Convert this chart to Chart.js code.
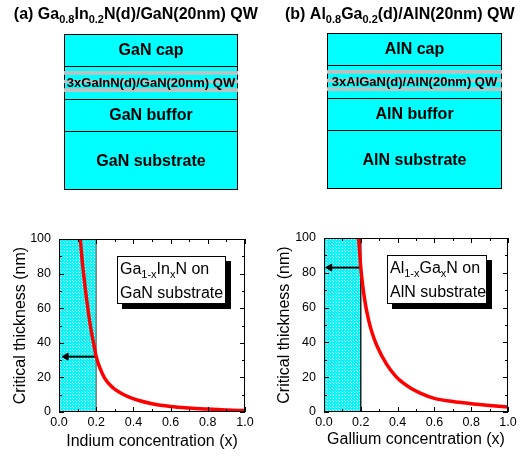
<!DOCTYPE html>
<html><head><meta charset="utf-8">
<script src="https://cdn.jsdelivr.net/npm/chart.js@4.4.1/dist/chart.umd.min.js"></script>
<style>
html,body{margin:0;padding:0;background:#fff;}
#wrap{position:relative;width:532px;height:460px;overflow:hidden;background:#fff;}
canvas{position:absolute;}
</style></head><body>
<div id="wrap">
<canvas id="ta" width="266" height="200" style="left:0;top:0"></canvas>
<canvas id="tb" width="266" height="200" style="left:266px;top:0"></canvas>
<canvas id="pa" width="266" height="240" style="left:0;top:220px"></canvas>
<canvas id="pb" width="266" height="240" style="left:266px;top:220px"></canvas>
</div>
<script>
// ---------------- data ----------------
// layer stacks (schematic thickness units, bottom to top)
const layersA = ['GaN substrate', 'GaN buffor', '3xGaInN(d)/GaN(20nm) QW', 'GaN cap'];
const layersB = ['AlN substrate', 'AlN buffor', '3xAlGaN(d)/AlN(20nm) QW', 'AlN cap'];
const layerThickness = [59, 32, 33, 32];
const qwBarriers = [[98.3, 101.3], [107, 110], [115.7, 118.7]];

// critical thickness curves
const inGaN_x = [0.115, 0.12, 0.13, 0.14, 0.15, 0.16, 0.17, 0.18, 0.19, 0.2, 0.22, 0.246, 0.29, 0.336, 0.38, 0.425, 0.5, 0.6, 0.7, 0.8, 0.9, 1.0];
const inGaN_h = [100, 93, 82, 72.5, 64, 56, 49, 43, 37.5, 32, 25.5, 19.4, 14, 10.7, 8.5, 6.8, 4.8, 3.2, 2.3, 1.7, 1.2, 0.8];
const alGaN_x = [0.188, 0.2, 0.21, 0.225, 0.24, 0.26, 0.29, 0.34, 0.39, 0.43, 0.47, 0.52, 0.6, 0.7, 0.8, 0.9, 1.0];
const alGaN_h = [100, 83, 73, 62, 54, 46, 37.5, 27.5, 20.5, 16.7, 13.8, 11, 7.8, 6.0, 4.8, 3.8, 2.9];

// shaded composition range and arrows
const shadeX = [0, 0.2];
const arrowA_x = [0.2, 0.038];
const arrowA_y = [32, 32];
const arrowB_x = [0.2, 0.031];
const arrowB_y = [83, 83];

// tick labels
const xTickLabels = ['0.0', '0.2', '0.4', '0.6', '0.8', '1.0'];
const yTickLabels = ['0', '20', '40', '60', '80', '100'];

// ---------------- drawing ----------------
const FONT = "Arial, 'Liberation Sans', Helvetica, sans-serif";
Chart.defaults.font.family = FONT;
Chart.defaults.color = '#000';

function richWidth(ctx, parts) {
  let w = 0;
  for (const p of parts) { ctx.font = (p[3] ? 'bold ' : '') + p[1] + 'px ' + FONT; w += ctx.measureText(p[0]).width; }
  return w;
}
function drawRich(ctx, parts, x, y, align) {
  let cx = align === 'center' ? x - richWidth(ctx, parts) / 2 : x;
  ctx.textAlign = 'left'; ctx.textBaseline = 'alphabetic'; ctx.fillStyle = '#000';
  for (const p of parts) {
    ctx.font = (p[3] ? 'bold ' : '') + p[1] + 'px ' + FONT;
    ctx.fillText(p[0], cx, y + p[2]);
    cx += ctx.measureText(p[0]).width;
  }
}

const diagramPlugin = {
  id: 'diagram',
  afterDatasetsDraw(chart, args, opts) {
    const ctx = chart.ctx;
    ctx.save();
    opts.names.forEach((name, i) => {
      const meta = chart.getDatasetMeta(qwBarriers.length + i);
      const el = meta.data[0];
      const cy = (el.y + el.base) / 2;
      const cx = (chart.chartArea.left + chart.chartArea.right) / 2;
      ctx.font = 'bold ' + (i === 2 ? 13 : 16) + 'px ' + FONT;
      ctx.textAlign = 'center'; ctx.textBaseline = 'middle'; ctx.fillStyle = '#000';
      ctx.fillText(name, cx, cy + 1);
    });
    drawRich(ctx, opts.title, opts.titleX, 18.5, 'center');
    ctx.restore();
  }
};

function diagram(id, names, pad, title, titleX) {
  const datasets = [];
  qwBarriers.forEach(s => datasets.push({ data: [s], backgroundColor: '#c0c0c0', borderWidth: 0, order: 0, grouped: false }));
  let base = 0;
  names.forEach((n, i) => {
    datasets.push({
      label: n, data: [[base, base + layerThickness[i]]], backgroundColor: '#00ffff', borderColor: '#000',
      borderWidth: i === 0 ? 1 : { top: 1, left: 1, right: 1, bottom: 0 }, borderSkipped: false, order: 1, grouped: false,
      inflateAmount: 0
    });
    base += layerThickness[i];
  });
  return new Chart(document.getElementById(id), {
    type: 'bar',
    data: { labels: ['stack'], datasets },
    options: {
      responsive: false, animation: false, events: [],
      layout: { padding: pad },
      barPercentage: 1, categoryPercentage: 1,
      scales: {
        x: { display: false },
        y: { display: false, min: 0, max: layerThickness.reduce((a, b) => a + b, 0) }
      },
      plugins: { legend: { display: false }, tooltip: { enabled: false }, diagram: { names, title, titleX } }
    },
    plugins: [diagramPlugin]
  });
}

diagram('ta', layersA, { left: 64, right: 28, top: 34, bottom: 10 },
  [['(a) Ga', 16, 0, 1], ['0.8', 11, 4, 1], ['In', 16, 0, 1], ['0.2', 11, 4, 1], ['N(d)/GaN(20nm) QW', 16, 0, 1]], 135.8);
diagram('tb', layersB, { left: 61, right: 30, top: 33, bottom: 11 },
  [['(b) Al', 16, 0, 1], ['0.8', 11, 4, 1], ['Ga', 16, 0, 1], ['0.2', 11, 4, 1], ['(d)/AlN(20nm) QW', 16, 0, 1]], 133.8);

// pattern for shaded range
function makePattern() {
  const c = document.createElement('canvas'); c.width = 3; c.height = 3;
  const g = c.getContext('2d');
  g.fillStyle = '#00f6fa'; g.fillRect(0, 0, 3, 3);
  g.fillStyle = '#e6ffff'; g.fillRect(1, 1, 1, 1);
  g.fillStyle = '#9ffcfc'; g.fillRect(0, 0, 1, 1);
  return g.createPattern(c, 'repeat');
}
const pattern = makePattern();

const framePlugin = {
  id: 'frame',
  afterDatasetsDraw(chart, args, opts) {
    const { ctx, chartArea: a, scales: { x, y } } = chart;
    ctx.save();
    ctx.strokeStyle = '#000'; ctx.lineWidth = 1;
    ctx.strokeRect(Math.round(a.left) + 0.5, Math.round(a.top) + 0.5, Math.round(a.right - a.left) - 1, Math.round(a.bottom - a.top) - 1);
    ctx.beginPath();
    const xt = x.ticks.map(t => x.getPixelForValue(t.value));
    const yt = y.ticks.map(t => y.getPixelForValue(t.value));
    const maj = 5, min = 3;
    xt.forEach((p, i) => {
      const px = Math.round(p) + 0.5;
      ctx.moveTo(px, a.bottom); ctx.lineTo(px, a.bottom - maj);
      ctx.moveTo(px, a.top); ctx.lineTo(px, a.top + maj);
      if (i < xt.length - 1) {
        const m = Math.round((p + xt[i + 1]) / 2) + 0.5;
        ctx.moveTo(m, a.bottom); ctx.lineTo(m, a.bottom - min);
        ctx.moveTo(m, a.top); ctx.lineTo(m, a.top + min);
      }
    });
    yt.forEach((p, i) => {
      const py = Math.round(p) + 0.5;
      ctx.moveTo(a.left, py); ctx.lineTo(a.left + maj, py);
      ctx.moveTo(a.right, py); ctx.lineTo(a.right - maj, py);
      if (i < yt.length - 1) {
        const m = Math.round((p + yt[i + 1]) / 2) + 0.5;
        ctx.moveTo(a.left, m); ctx.lineTo(a.left + min, m);
        ctx.moveTo(a.right, m); ctx.lineTo(a.right - min, m);
      }
    });
    ctx.stroke();
    // annotation box with shadow
    const b = opts.box;
    const l = Math.round(x.getPixelForValue(b.x0)), r = Math.round(x.getPixelForValue(b.x1));
    const t = Math.round(y.getPixelForValue(b.y0)), bt = Math.round(y.getPixelForValue(b.y1));
    ctx.fillStyle = '#000';
    ctx.fillRect(l + 5, t + 5, r - l, bt - t);
    ctx.fillStyle = '#fff';
    ctx.fillRect(l, t, r - l, bt - t);
    ctx.strokeStyle = '#000'; ctx.lineWidth = 1;
    ctx.strokeRect(l + 0.5, t + 0.5, r - l - 1, bt - t - 1);
    drawRich(ctx, opts.line1, l + 3, t + 17.5, 'left');
    drawRich(ctx, opts.line2, l + 3, t + 41.5, 'left');
    ctx.restore();
  }
};

function toPts(xs, ys) { return xs.map((v, i) => ({ x: v, y: ys[i] })); }

function plot(id, cfg) {
  return new Chart(document.getElementById(id), {
    type: 'line',
    data: {
      datasets: [
        { data: toPts(cfg.cx, cfg.cy), borderColor: '#ff0000', borderWidth: 3.5, pointRadius: 0, cubicInterpolationMode: 'monotone', fill: false, order: 1 },
        { data: toPts(cfg.ax, cfg.ay), borderColor: '#000', borderWidth: 2, pointRadius: [0, 4], pointStyle: 'triangle', rotation: 270,
          pointBackgroundColor: '#000', pointBorderColor: '#000', pointBorderWidth: 1, fill: false, order: 2 },
        { data: [{ x: shadeX[1], y: 0 }, { x: shadeX[1], y: 100 }], borderColor: cfg.edgeColor, borderWidth: 1.3, pointRadius: 0, fill: false, order: 3 },
        { data: shadeX.map(v => ({ x: v, y: 100 })), borderWidth: 0, pointRadius: 0, fill: 'origin', backgroundColor: pattern, order: 4 }
      ]
    },
    options: {
      responsive: false, animation: false, events: [],
      layout: { padding: { left: 0, right: cfg.padR, top: cfg.padT, bottom: 0 } },
      scales: {
        x: {
          type: 'linear', min: 0, max: 1,
          grid: { display: false, drawTicks: false }, border: { display: false },
          ticks: { stepSize: 0.2, maxRotation: 0, autoSkip: false, padding: 3, font: { size: 12.5 }, callback: (v, i) => xTickLabels[i] },
          title: { display: true, text: cfg.xTitle, font: { size: 16 }, padding: { top: 0, bottom: cfg.xTitlePad } },
          afterFit: s => { s.height = cfg.xH; }
        },
        y: {
          type: 'linear', min: 0, max: 100,
          grid: { display: false, drawTicks: false }, border: { display: false },
          ticks: { stepSize: 20, autoSkip: false, padding: 8, font: { size: 12.5 }, callback: (v, i) => yTickLabels[i] },
          title: { display: true, text: 'Critical thickness (nm)', font: { size: 16 }, padding: { top: cfg.yTitlePad, bottom: 0 } },
          afterFit: s => { s.width = cfg.yW; }
        }
      },
      plugins: {
        legend: { display: false }, tooltip: { enabled: false },
        frame: { box: cfg.box, line1: cfg.line1, line2: cfg.line2 }
      }
    },
    plugins: [framePlugin]
  });
}

plot('pa', {
  cx: inGaN_x, cy: inGaN_h, ax: arrowA_x, ay: arrowA_y, edgeColor: '#707070',
  padR: 21, padT: 19, xH: 48, yW: 59, xTitlePad: 9, yTitlePad: 11,
  xTitle: 'Indium concentration (x)',
  box: { x0: 0.312, x1: 0.9, y0: 90.3, y1: 62.3 },
  line1: [['Ga', 16, 0], ['1-x', 11, 4], ['In', 16, 0], ['x', 11, 4], ['N on', 16, 0]],
  line2: [['GaN substrate', 16, 0]]
});
plot('pb', {
  cx: alGaN_x, cy: alGaN_h, ax: arrowB_x, ay: arrowB_y, edgeColor: '#000',
  padR: 24, padT: 18, xH: 48, yW: 58, xTitlePad: 11, yTitlePad: 9,
  xTitle: 'Gallium concentration (x)',
  box: { x0: 0.34, x1: 0.885, y0: 90.4, y1: 62.2 },
  line1: [['Al', 16, 0], ['1-x', 11, 4], ['Ga', 16, 0], ['x', 11, 4], ['N on', 16, 0]],
  line2: [['AlN substrate', 16, 0]]
});
</script>
</body></html>
